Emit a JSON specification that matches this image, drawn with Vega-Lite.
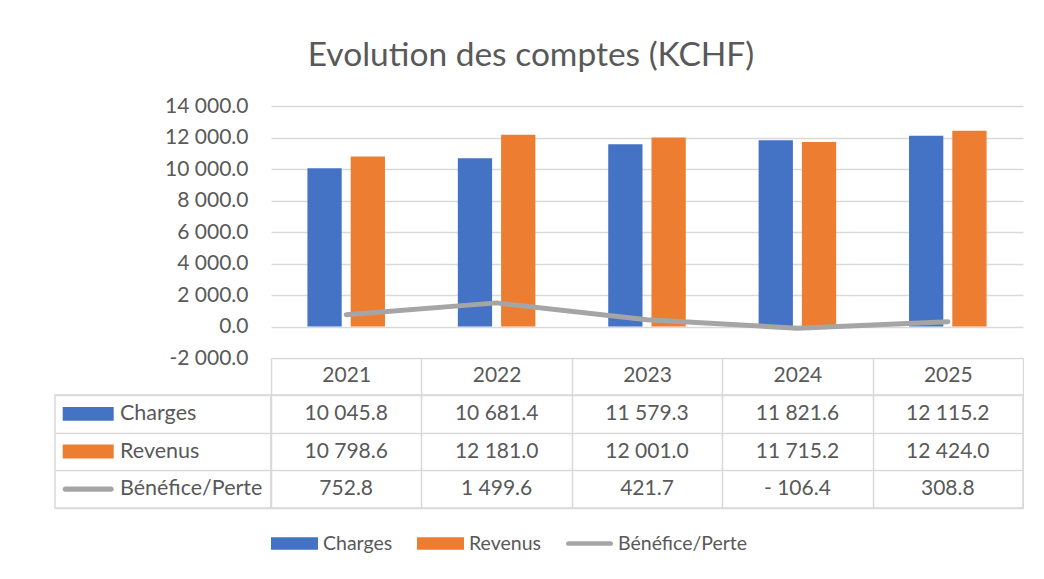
{
  "$schema": "https://vega.github.io/schema/vega-lite/v6.json",
  "padding": {"left": 54, "top": 38, "right": 0, "bottom": 0},
  "title": {"text": "Evolution des comptes (KCHF)", "anchor": "middle", "font": "Lato", "fontSize": 33.5, "fontWeight": "normal", "color": "#595959", "offset": 22, "dx": -8},
  "datasets": {
    "comptes": [
      {"year": "2021", "series": "Charges", "value": 10045.8},
      {"year": "2022", "series": "Charges", "value": 10681.4},
      {"year": "2023", "series": "Charges", "value": 11579.3},
      {"year": "2024", "series": "Charges", "value": 11821.6},
      {"year": "2025", "series": "Charges", "value": 12115.2},
      {"year": "2021", "series": "Revenus", "value": 10798.6},
      {"year": "2022", "series": "Revenus", "value": 12181.0},
      {"year": "2023", "series": "Revenus", "value": 12001.0},
      {"year": "2024", "series": "Revenus", "value": 11715.2},
      {"year": "2025", "series": "Revenus", "value": 12424.0},
      {"year": "2021", "series": "Bénéfice/Perte", "value": 752.8},
      {"year": "2022", "series": "Bénéfice/Perte", "value": 1499.6},
      {"year": "2023", "series": "Bénéfice/Perte", "value": 421.7},
      {"year": "2024", "series": "Bénéfice/Perte", "value": -106.4},
      {"year": "2025", "series": "Bénéfice/Perte", "value": 308.8}
    ]
  },
  "columns": 2,
  "spacing": {"row": 37, "column": 0},
  "bounds": "flush",
  "resolve": {"scale": {"color": "independent", "shape": "independent", "x": "independent", "y": "independent"}},
  "concat": [
    {
      "width": 216, "height": 252,
      "data": {"values": [{"a": 1}]},
      "mark": {"type": "text", "text": ""}
    },
    {
      "width": 752, "height": 252,
      "data": {"name": "comptes"},
      "encoding": {
        "x": {"field": "year", "type": "nominal", "scale": {"type": "band", "paddingInner": 0, "paddingOuter": 0},
          "axis": {"title": null, "orient": "bottom", "domain": false, "ticks": true, "tickBand": "extent", "tickSize": 37, "tickColor": "#d9d9d9", "tickWidth": 1.5, "labelAngle": 0, "labelFontSize": 21, "labelColor": "#595959", "labelBaseline": "middle", "labelPadding": -20, "grid": false}},
        "y": {"field": "value", "type": "quantitative", "scale": {"domain": [-2000, 14000], "nice": false},
          "axis": {"title": null, "values": [-2000, 0, 2000, 4000, 6000, 8000, 10000, 12000, 14000], "format": ",.1f", "labelExpr": "replace(datum.label, '- ', '-')", "labelOverlap": false, "domain": false, "ticks": false, "labelPadding": 23, "labelFontSize": 21, "labelColor": "#595959", "grid": true, "gridColor": "#d9d9d9", "gridWidth": 1.5}}
      },
      "layer": [
        {
          "transform": [{"filter": "datum.series !== 'Bénéfice/Perte'"}],
          "mark": {"type": "bar"},
          "encoding": {
            "xOffset": {"field": "series", "type": "nominal", "scale": {"domain": ["Charges", "Revenus"], "paddingInner": 0.208, "paddingOuter": 0.842}},
            "color": {"field": "series", "type": "nominal", "scale": {"domain": ["Charges", "Revenus"], "range": ["#4472C4", "#ED7D31"]}, "legend": null}
          }
        },
        {
          "transform": [{"filter": "datum.series === 'Bénéfice/Perte'"}],
          "mark": {"type": "line", "color": "#A5A5A5", "strokeWidth": 5, "strokeCap": "round", "strokeJoin": "round"},
          "encoding": {}
        }
      ]
    },
    {
      "width": 216, "height": 113,
      "view": {"stroke": "#d9d9d9", "strokeWidth": 1.5},
      "data": {"name": "comptes"},
      "transform": [{"filter": "datum.year === '2021'"}],
      "encoding": {
        "y": {"field": "series", "type": "nominal", "scale": {"type": "band", "domain": ["Charges", "Revenus", "Bénéfice/Perte"], "paddingInner": 0, "paddingOuter": 0},
          "axis": {"title": null, "labels": false, "ticks": false, "domain": false, "grid": true, "tickBand": "extent", "gridColor": "#d9d9d9", "gridWidth": 1.5}}
      },
      "layer": [
        {
          "mark": {"type": "point", "filled": true, "size": 2601, "opacity": 1, "xOffset": -74.8, "strokeWidth": 0},
          "encoding": {
            "shape": {"field": "series", "type": "nominal", "scale": {"domain": ["Charges", "Revenus", "Bénéfice/Perte"], "range": ["M-1,-0.27H1V0.27H-1Z", "M-1,-0.27H1V0.27H-1Z", "M-0.9,-0.1H0.9A0.1,0.1 0 0 1 0.9,0.1H-0.9A0.1,0.1 0 0 1 -0.9,-0.1Z"]}, "legend": null},
            "color": {"field": "series", "type": "nominal", "scale": {"domain": ["Charges", "Revenus", "Bénéfice/Perte"], "range": ["#4472C4", "#ED7D31", "#A5A5A5"]}, "legend": null}
          }
        },
        {
          "mark": {"type": "text", "align": "left", "dx": -43, "fontSize": 21.5, "color": "#595959"},
          "encoding": {"text": {"field": "series", "type": "nominal"}}
        }
      ]
    },
    {
      "width": 752, "height": 113,
      "view": {"stroke": "#d9d9d9", "strokeWidth": 1.5},
      "data": {"name": "comptes"},
      "encoding": {
        "x": {"field": "year", "type": "nominal", "scale": {"type": "band", "paddingInner": 0, "paddingOuter": 0},
          "axis": {"title": null, "labels": false, "ticks": false, "domain": false, "grid": true, "tickBand": "extent", "gridColor": "#d9d9d9", "gridWidth": 1.5}},
        "y": {"field": "series", "type": "nominal", "scale": {"type": "band", "domain": ["Charges", "Revenus", "Bénéfice/Perte"], "paddingInner": 0, "paddingOuter": 0},
          "axis": {"title": null, "labels": false, "ticks": false, "domain": false, "grid": true, "tickBand": "extent", "gridColor": "#d9d9d9", "gridWidth": 1.5}}
      },
      "layer": [
        {
          "mark": {"type": "text", "fontSize": 21, "color": "#595959"},
          "encoding": {"text": {"field": "value", "type": "quantitative", "format": ",.1f"}}
        },
        {
          "mark": {"type": "point", "filled": true, "opacity": 0, "strokeWidth": 0},
          "encoding": {
            "shape": {"field": "series", "type": "nominal", "scale": {"domain": ["Charges", "Revenus", "Bénéfice/Perte"], "range": ["M-1,-0.27H1V0.27H-1Z", "M-1,-0.27H1V0.27H-1Z", "M-0.9,-0.1H0.9A0.1,0.1 0 0 1 0.9,0.1H-0.9A0.1,0.1 0 0 1 -0.9,-0.1Z"]},
              "legend": {"orient": "bottom", "direction": "horizontal", "title": null, "symbolSize": 2209, "symbolOpacity": 1, "symbolStrokeWidth": 0, "labelFontSize": 19.5, "labelColor": "#595959", "labelOffset": 5, "columnPadding": 24, "offset": 12}},
            "color": {"field": "series", "type": "nominal", "scale": {"domain": ["Charges", "Revenus", "Bénéfice/Perte"], "range": ["#4472C4", "#ED7D31", "#A5A5A5"]},
              "legend": {"orient": "bottom", "direction": "horizontal", "title": null, "symbolSize": 2209, "symbolOpacity": 1, "symbolStrokeWidth": 0, "labelFontSize": 19.5, "labelColor": "#595959", "labelOffset": 5, "columnPadding": 24, "offset": 12}}
          }
        }
      ]
    }
  ],
  "config": {
    "font": "Lato",
    "view": {"stroke": null},
    "axisY": {"labelOverlap": false},
    "axisQuantitative": {"labelOverlap": false},
    "locale": {"number": {"decimal": ".", "thousands": " ", "grouping": [3], "currency": ["", ""], "minus": "- "}}
  }
}
